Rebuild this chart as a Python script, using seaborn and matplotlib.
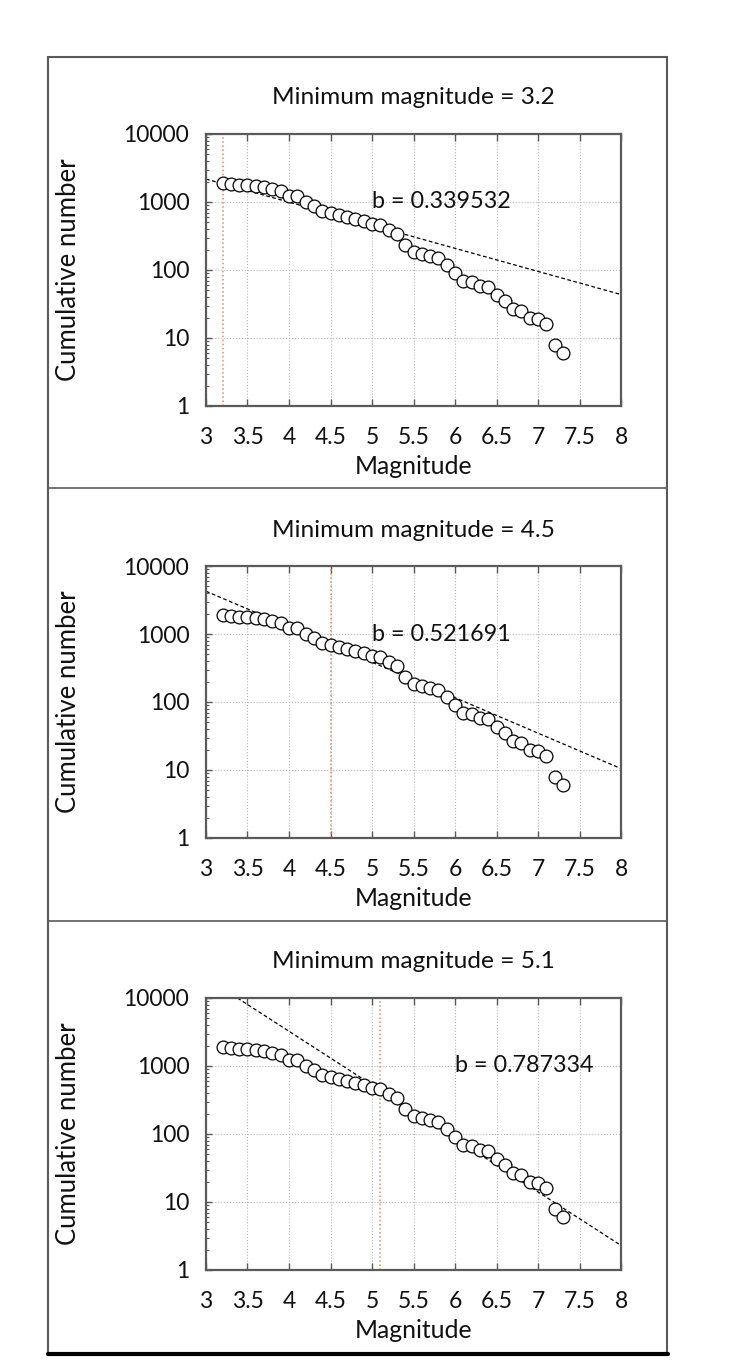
import numpy as np
import pandas as pd
import seaborn as sns
import matplotlib.pyplot as plt
from matplotlib.patches import Rectangle
from matplotlib.lines import Line2D
from matplotlib.ticker import LogLocator, FixedLocator, NullFormatter

# magnitude bins and cumulative counts
magnitude = [3.2, 3.3, 3.4, 3.5, 3.6, 3.7, 3.8, 3.9, 4.0, 4.1,
             4.2, 4.3, 4.4, 4.5, 4.6, 4.7, 4.8, 4.9, 5.0, 5.1,
             5.2, 5.3, 5.4, 5.5, 5.6, 5.7, 5.8, 5.9, 6.0, 6.1,
             6.2, 6.3, 6.4, 6.5, 6.6, 6.7, 6.8, 6.9, 7.0, 7.1,
             7.2, 7.3]
cumulative = [1880, 1830, 1790, 1750, 1700, 1640, 1560, 1440, 1240, 1240,
              1000, 860, 740, 700, 635, 605, 560, 520, 470, 455,
              385, 338, 236, 185, 172, 163, 148, 119, 91, 69,
              66, 58, 57, 43, 35, 27, 25, 20, 19, 16,
              8, 6]

# Gutenberg-Richter fits: log10 N = a - b M
min_magnitude = [3.2, 4.5, 5.1]
b_values = [0.339532, 0.521691, 0.787334]
a_values = [4.356, 5.194, 6.66]
fit_range = [3.0, 8.0]

x_ticks = [3, 3.5, 4, 4.5, 5, 5.5, 6, 6.5, 7, 7.5, 8]
x_ticklabels = ['3', '3.5', '4', '4.5', '5', '5.5', '6', '6.5', '7', '7.5', '8']
y_ticks = [1, 10, 100, 1000, 10000]
label_x = [5.0, 5.0, 6.0]

sns.set_style("white")
plt.rcParams['font.family'] = ['Lato', 'DejaVu Sans']
plt.rcParams['text.color'] = '#111111'
plt.rcParams['axes.labelcolor'] = '#111111'

df = pd.DataFrame({'magnitude': magnitude, 'cumulative': cumulative})

fig = plt.figure(figsize=(7.43, 13.63), dpi=100)

W, H = 743, 1363
axes_top = [134, 566, 998]
axes_h = 272
ax_left, ax_right = 206, 621

grey = '#5a5a5a'

# outer frame and panel dividers
fig.patches.append(Rectangle((48 / W, 1 - 1354 / H), (667 - 48) / W, (1354 - 57) / H,
                             transform=fig.transFigure, fill=False,
                             edgecolor=grey, linewidth=1.5))
for yd in [488, 921]:
    fig.lines.append(Line2D([48 / W, 667 / W], [1 - yd / H, 1 - yd / H],
                            transform=fig.transFigure, color=grey, linewidth=1.2))
fig.lines.append(Line2D([48 / W, 668 / W], [1 - 1354 / H, 1 - 1354 / H],
                        transform=fig.transFigure, color='black', linewidth=3))

for i in range(3):
    top = axes_top[i]
    ax = fig.add_axes([ax_left / W, 1 - (top + axes_h) / H,
                       (ax_right - ax_left) / W, axes_h / H])

    # minimum magnitude marker
    ax.axvline(min_magnitude[i], color='#e58a60', linestyle=':', linewidth=1.1, zorder=1)

    # fitted line
    fx = np.array(fit_range)
    fit = pd.DataFrame({'m': fx, 'n': 10 ** (a_values[i] - b_values[i] * fx)})
    sns.lineplot(data=fit, x='m', y='n', ax=ax, color='black',
                 linestyle=(0, (3, 2)), linewidth=0.9, zorder=2)

    sns.scatterplot(data=df, x='magnitude', y='cumulative', ax=ax, marker='o',
                    s=85, facecolor='white', edgecolor='black', linewidth=0.9,
                    zorder=3)

    ax.set_yscale('log')
    ax.set_xlim(3, 8)
    ax.set_ylim(1, 10000)
    ax.xaxis.set_major_locator(FixedLocator(x_ticks))
    ax.set_xticklabels(x_ticklabels)
    ax.yaxis.set_major_locator(FixedLocator(y_ticks))
    ax.set_yticklabels([str(v) for v in y_ticks])
    ax.yaxis.set_minor_locator(LogLocator(base=10, subs=np.arange(2, 10)))
    ax.yaxis.set_minor_formatter(NullFormatter())

    ax.grid(True, which='major', color='#b8b8b8', linestyle=':', linewidth=0.8)
    ax.tick_params(axis='x', which='major', direction='in', length=5, width=1,
                   color=grey, top=True, bottom=True, labelsize=16.5, pad=15,
                   labelcolor='#111111')
    ax.tick_params(axis='y', which='major', direction='in', length=4, width=1,
                   color=grey, left=True, right=False, labelsize=16.5, pad=12,
                   labelcolor='#111111')
    ax.tick_params(axis='y', which='minor', direction='in', length=2.5, width=0.8,
                   color=grey, left=True, right=False)
    for sp in ax.spines.values():
        sp.set_color(grey)
        sp.set_linewidth(1.6)

    ax.set_xlabel('Magnitude', fontsize=17.8)
    ax.xaxis.set_label_coords(0.5, -(467 - 134 - axes_h) / axes_h)
    ax.xaxis.label.set_va('center')
    ax.set_ylabel('Cumulative number', fontsize=18.5)
    ax.yaxis.set_label_coords((69 - ax_left) / (ax_right - ax_left), 0.5)
    ax.yaxis.label.set_va('center')

    ax.text(0.5, 1 + 36 / axes_h, f'Minimum magnitude = {min_magnitude[i]}',
            transform=ax.transAxes, ha='center', va='center', fontsize=17.6)
    ax.text(label_x[i], 1000, f'b = {b_values[i]}', ha='left', va='center',
            fontsize=16.8, zorder=4)

fig.savefig('out.png', dpi=100)
